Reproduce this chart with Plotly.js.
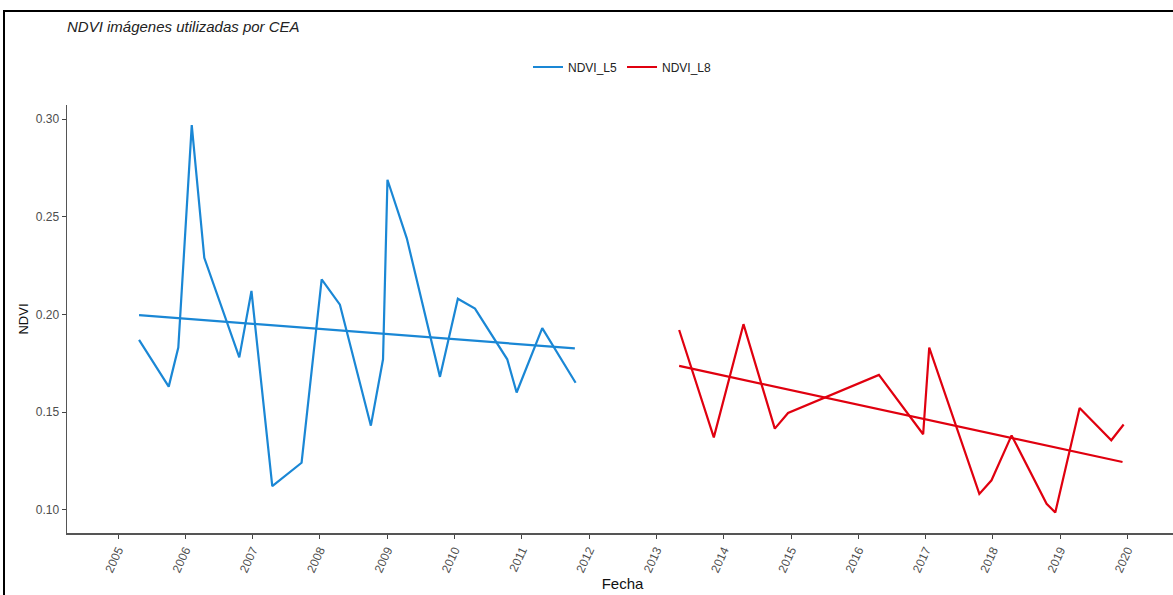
<!DOCTYPE html>
<html>
<head>
<meta charset="utf-8">
<script src="https://cdn.plot.ly/plotly-3.0.1.min.js"></script>
<style>
  html, body { margin: 0; padding: 0; background: #fff; overflow: hidden; }
  #wrap { position: relative; width: 1173px; height: 595px; overflow: hidden; }
  #chart { position: absolute; left: 0; top: 0; width: 1180px; height: 595px; }
  #frame { position: absolute; left: 3px; top: 10px; width: 1300px; height: 700px;
           border-left: 2px solid #000; border-top: 2px solid #000; pointer-events: none; }
</style>
</head>
<body>
<div id="wrap">
  <div id="chart"></div>
  <div id="frame"></div>
</div>
<script>
// NDVI Landsat 5 series
const datesL5 = ["2005-04-25","2005-10-03","2005-11-24","2006-02-05","2006-04-14","2006-10-21",
  "2006-12-26","2007-04-18","2007-09-24","2008-01-11","2008-04-19","2008-10-04","2008-12-09",
  "2009-01-02","2009-04-17","2009-10-14","2010-01-19","2010-04-22","2010-10-14","2010-12-04",
  "2011-04-22","2011-10-20"];
const ndviL5 = [0.187,0.163,0.183,0.297,0.229,0.178,
  0.212,0.112,0.124,0.218,0.205,0.143,0.177,
  0.269,0.239,0.168,0.208,0.203,0.177,0.160,
  0.193,0.165];

// NDVI Landsat 8 series
const datesL8 = ["2013-05-04","2013-11-08","2014-04-18","2014-10-05","2014-12-16","2016-04-22",
  "2016-12-18","2017-01-20","2017-10-19","2017-12-24","2018-04-12","2018-10-19","2018-12-05",
  "2019-04-16","2019-10-05","2019-12-11"];
const ndviL8 = [0.192,0.137,0.195,0.1415,0.1495,0.169,
  0.1386,0.183,0.108,0.115,0.138,0.103,0.0985,
  0.152,0.1355,0.1436];

// Linear trend lines
const trendDatesL5 = ["2005-04-25","2011-10-16"];
const trendL5 = [0.1996,0.1826];
const trendDatesL8 = ["2013-05-04","2019-12-05"];
const trendL8 = [0.1736,0.1244];

const tickYears = ["2005","2006","2007","2008","2009","2010","2011","2012",
  "2013","2014","2015","2016","2017","2018","2019","2020"];

const blue = "#1A87D5";
const red = "#E0000F";

const traces = [
  {x: datesL5, y: ndviL5, type: "scatter", mode: "lines", name: "NDVI_L5",
   line: {color: blue, width: 2.2}, legendgroup: "L5"},
  {x: trendDatesL5, y: trendL5, type: "scatter", mode: "lines", name: "NDVI_L5",
   line: {color: blue, width: 2.2}, legendgroup: "L5", showlegend: false},
  {x: datesL8, y: ndviL8, type: "scatter", mode: "lines", name: "NDVI_L8",
   line: {color: red, width: 2.2}, legendgroup: "L8"},
  {x: trendDatesL8, y: trendL8, type: "scatter", mode: "lines", name: "NDVI_L8",
   line: {color: red, width: 2.2}, legendgroup: "L8", showlegend: false}
];

const layout = {
  width: 1180, height: 595,
  margin: {l: 67, r: 2, t: 105, b: 62},
  paper_bgcolor: "#fff", plot_bgcolor: "#fff",
  font: {family: "Liberation Sans, Arial, sans-serif", color: "#4D4D4D", size: 12},
  title: {text: "<i>NDVI imágenes utilizadas por CEA</i>", x: 0, xref: "paper", xanchor: "left",
          y: 1 - 27/595, yref: "container", yanchor: "middle",
          font: {size: 15, color: "#222", family: "Liberation Sans, Arial, sans-serif"}},
  showlegend: true,
  legend: {orientation: "h", x: 0.5, xanchor: "center", y: 1 + 38/428, yanchor: "middle",
           font: {size: 12, color: "#222"}, bgcolor: "rgba(0,0,0,0)"},
  xaxis: {
    type: "date",
    range: ["2004-03-30", "2020-10-01"],
    tickmode: "array",
    tickvals: tickYears.map(y => y + "-01-01"),
    ticktext: tickYears,
    tickangle: -65,
    ticks: "outside", ticklen: 4, tickwidth: 1, tickcolor: "#444",
    showline: true, linecolor: "#555", linewidth: 1.5,
    showgrid: false, zeroline: false,
    tickfont: {size: 12, color: "#4D4D4D"},
    title: {text: "Fecha", font: {size: 15, color: "#111"}, standoff: 0}
  },
  yaxis: {
    range: [0.088, 0.3073],
    tickvals: [0.10, 0.15, 0.20, 0.25, 0.30],
    ticktext: ["0.10","0.15","0.20","0.25","0.30"],
    ticks: "outside", ticklen: 4, tickwidth: 1, tickcolor: "#444",
    showline: true, linecolor: "#555", linewidth: 1.5,
    showgrid: false, zeroline: false,
    tickfont: {size: 12, color: "#4D4D4D"},
    title: {text: "NDVI", font: {size: 13, color: "#111"}, standoff: 4}
  }
};

Plotly.newPlot("chart", traces, layout, {staticPlot: true, displayModeBar: false});
</script>
</body>
</html>
